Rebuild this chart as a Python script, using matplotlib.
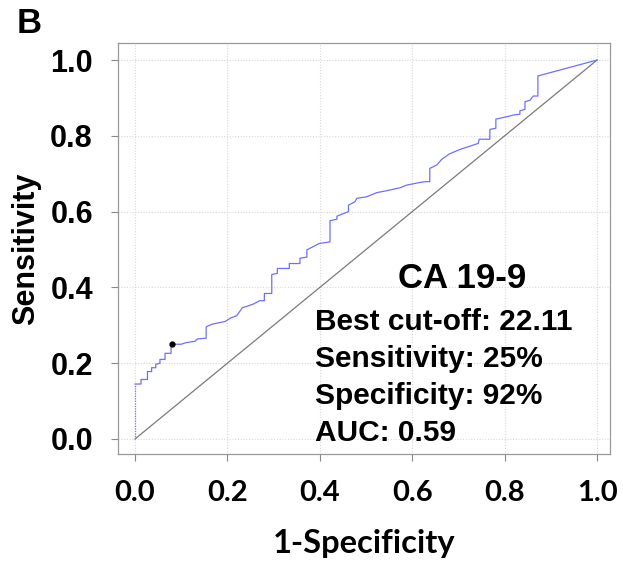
import numpy as np
import matplotlib.pyplot as plt

# ROC curve vertices for CA 19-9 (false positive rate, true positive rate)
fpr = [0.0, 0.0, 0.013, 0.013, 0.027, 0.027, 0.036, 0.036, 0.045, 0.045,
       0.054, 0.054, 0.065, 0.065, 0.078, 0.078, 0.10, 0.11, 0.13, 0.135,
       0.154, 0.154, 0.167, 0.195, 0.208, 0.22, 0.232, 0.256, 0.27, 0.28,
       0.28, 0.296, 0.296, 0.308, 0.308, 0.334, 0.334, 0.357, 0.357, 0.372,
       0.372, 0.399, 0.422, 0.422, 0.437, 0.437, 0.462, 0.462, 0.476, 0.48,
       0.501, 0.523, 0.548, 0.574, 0.588, 0.617, 0.628, 0.638, 0.638, 0.653,
       0.664, 0.68, 0.703, 0.743, 0.745, 0.768, 0.768, 0.781, 0.781, 0.81,
       0.819, 0.833, 0.833, 0.844, 0.844, 0.855, 0.862, 0.872, 0.872, 1.0]
tpr = [0.0, 0.145, 0.145, 0.157, 0.157, 0.178, 0.178, 0.188, 0.188, 0.197,
       0.2, 0.21, 0.21, 0.226, 0.226, 0.25, 0.25, 0.254, 0.258, 0.264,
       0.266, 0.296, 0.303, 0.31, 0.32, 0.325, 0.346, 0.356, 0.365, 0.365,
       0.384, 0.384, 0.434, 0.437, 0.45, 0.45, 0.463, 0.463, 0.477, 0.48,
       0.499, 0.516, 0.52, 0.576, 0.58, 0.588, 0.6, 0.617, 0.626, 0.635,
       0.639, 0.65, 0.656, 0.663, 0.67, 0.677, 0.679, 0.679, 0.714, 0.723,
       0.738, 0.752, 0.764, 0.78, 0.791, 0.791, 0.817, 0.82, 0.844, 0.852,
       0.855, 0.857, 0.866, 0.87, 0.89, 0.894, 0.905, 0.905, 0.958, 1.0]

marker_name = "CA 19-9"
best_cutoff = 22.11
best_sens = 0.25
best_spec = 0.92
auc = 0.59
ticks = [0.0, 0.2, 0.4, 0.6, 0.8, 1.0]

arial = ["Liberation Sans", "DejaVu Sans"]
calibri = ["Lato", "DejaVu Sans"]

fig = plt.figure(figsize=(6.23, 5.62), dpi=100)
ax = fig.add_axes([0.1894, 0.1922, 0.7897, 0.7313])

ax.set_xlim(-0.0368, 1.028)
ax.set_ylim(-0.0396, 1.045)

for t in ticks:
    ax.axhline(t, color="#d8d8d8", lw=0.8, ls=(0, (1, 1.5)), zorder=0)
    ax.axvline(t, color="#d8d8d8", lw=0.8, ls=(0, (1, 1.5)), zorder=0)

ax.plot([0, 1], [0, 1], color="#7a7a7a", lw=0.9, zorder=1)
ax.plot(fpr[:2], tpr[:2], color="#7777ff", lw=0.9, ls=(0, (1, 1)), zorder=2)
ax.plot(fpr[1:], tpr[1:], color="#6f6fff", lw=0.9, zorder=2)
ax.plot(1 - best_spec, best_sens, "o", color="black", ms=3.5, zorder=3)

ax.set_xticks(ticks)
ax.set_yticks(ticks)
ax.set_xticklabels([f"{t:.1f}" for t in ticks], fontfamily=calibri,
                   fontweight="bold", fontsize=21)
ax.set_yticklabels([f"{t:.1f}" for t in ticks], fontfamily=arial,
                   fontweight="bold", fontsize=22)
ax.tick_params(axis="both", length=5, width=0.8, color="#888888")
ax.tick_params(axis="x", pad=14)
ax.tick_params(axis="y", pad=13)
for sp in ax.spines.values():
    sp.set_color("#999999")
    sp.set_linewidth(0.9)

ax.set_xlabel("1-Specificity", fontfamily=calibri, fontweight="bold",
              fontsize=23.5, va="center")
ax.xaxis.set_label_coords(0.5, -0.219)
ax.set_ylabel("Sensitivity", fontfamily=arial, fontweight="bold",
              fontsize=22, va="center")
ax.yaxis.set_label_coords(-0.186, 0.5)

ax.text(0.709, 0.398, marker_name, fontfamily=arial, fontweight="bold",
        fontsize=25, ha="center", va="baseline")
info = [f"Best cut-off: {best_cutoff:.2f}",
        f"Sensitivity: {best_sens:.0%}",
        f"Specificity: {best_spec:.0%}",
        f"AUC: {auc:.2f}"]
for i, line in enumerate(info):
    ax.text(0.39, 0.2876 - i * 0.0976, line, fontfamily=arial,
            fontweight="bold", fontsize=21.5, ha="left", va="baseline")

fig.text(0.026, 0.9413, "B", fontfamily=arial, fontweight="bold", fontsize=25,
         ha="left", va="baseline")

fig.savefig("out.png", dpi=100)
